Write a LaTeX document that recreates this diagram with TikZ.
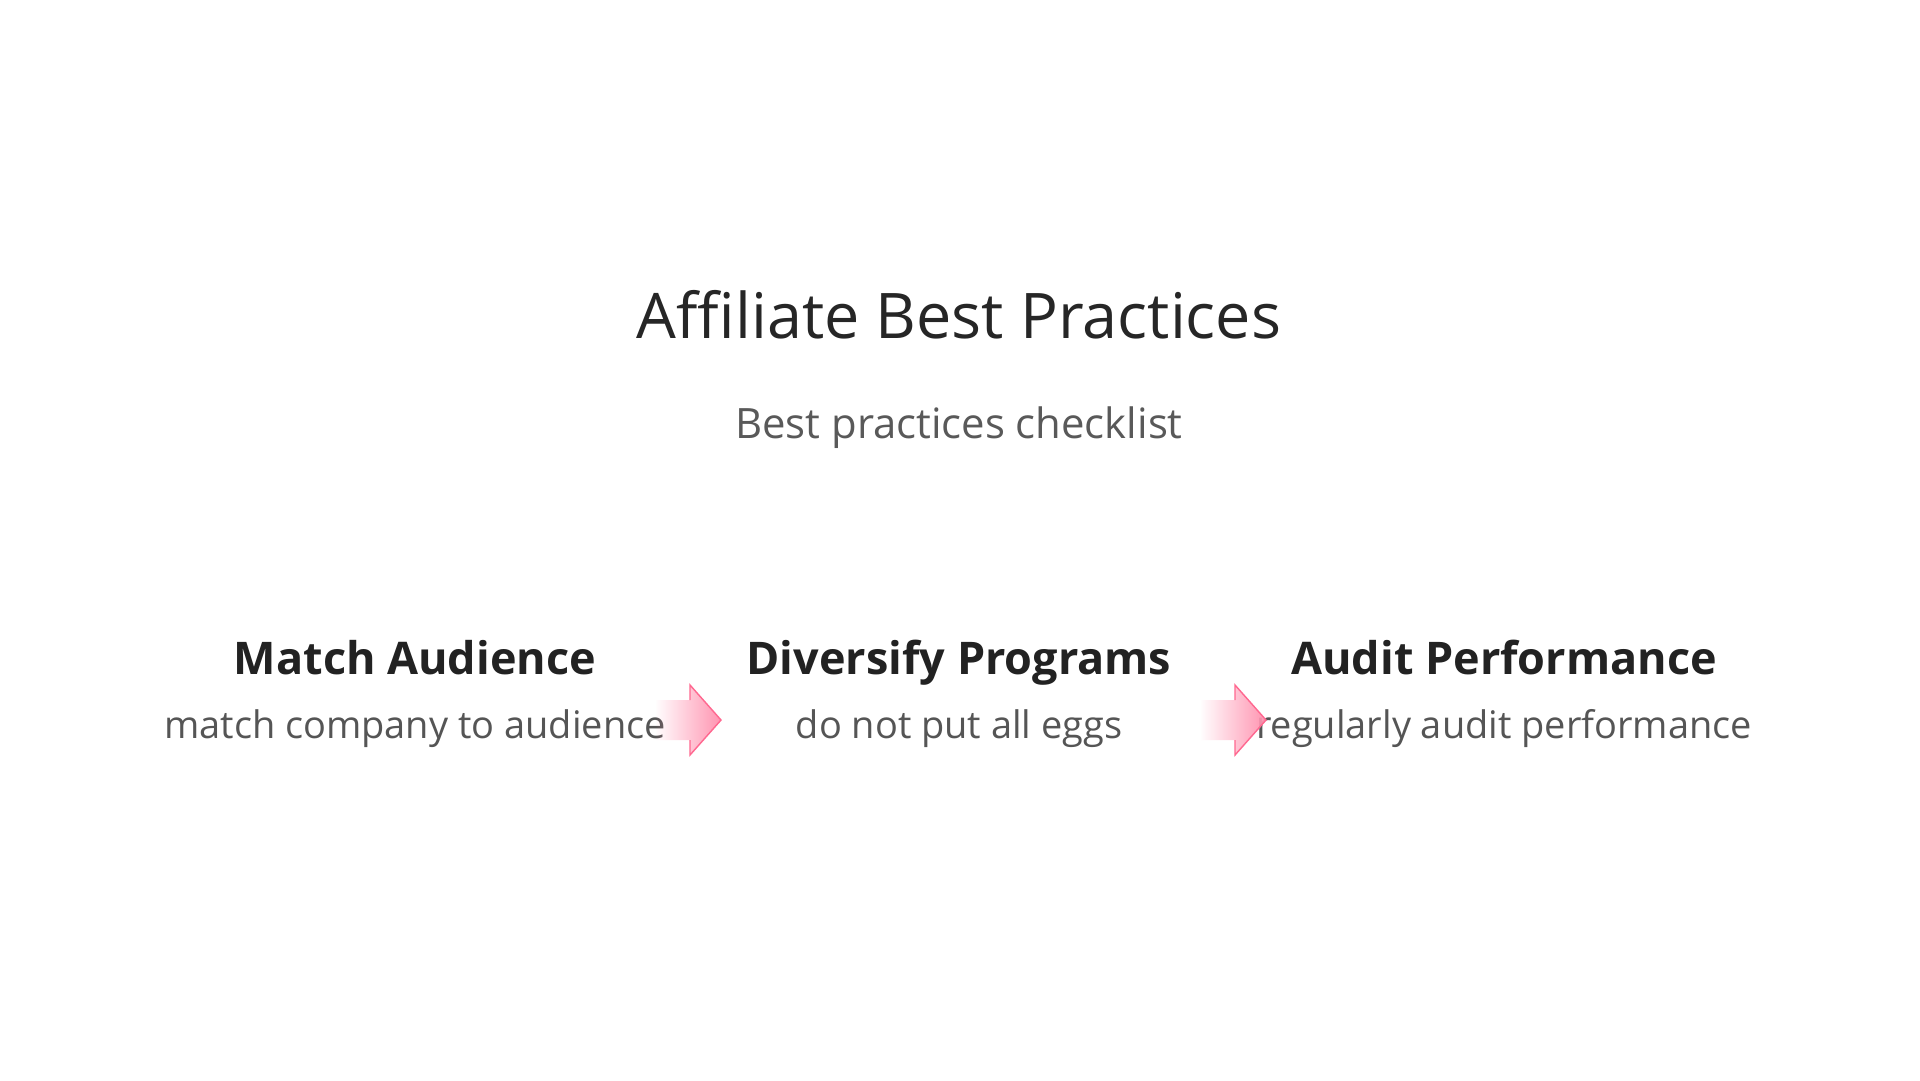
\documentclass[tikz,border=0pt]{standalone}
\usepackage{fontspec}
\setmainfont{Open Sans}[BoldFont={Open Sans Bold}]
\usetikzlibrary{fadings}
\definecolor{titlegray}{HTML}{262626}
\definecolor{subgray}{HTML}{595959}
\definecolor{headgray}{HTML}{222222}
\definecolor{notegray}{HTML}{555555}
\definecolor{arrowpink}{HTML}{FF4D7D}
\tikzset{
  titletext/.style={font=\fontsize{17.9}{21}\selectfont, text=titlegray, anchor=base, inner sep=0pt},
  subtitletext/.style={font=\fontsize{11.9}{14}\selectfont, text=subgray, anchor=base, inner sep=0pt},
  heading/.style={font=\bfseries\fontsize{12.8}{15}\selectfont, text=headgray, anchor=base, inner sep=0pt},
  notetext/.style={font=\fontsize{10.8}{13}\selectfont, text=notegray, anchor=base, inner sep=0pt},
  arrowfill/.style={fill=arrowpink!60, path fading=west, draw=none},
  arrowedge/.style={draw=arrowpink!85, line width=0.4pt, line join=miter}
}
\begin{document}
\begin{tikzpicture}[x=0.1mm,y=-0.1mm]
	\useasboundingbox (0,0) rectangle (1920,1080);
	\fill[white] (0,0) rectangle (1920,1080);
	% title block
	\node[titletext] (title) at (959,338) {Affiliate Best Practices};
	\node[subtitletext] (subtitle) at (959,438) {Best practices checklist};
	% the three steps
	\node[heading] (match) at (415,674) {Match Audience};
	\node[heading] (diverse) at (959,674) {Diversify Programs};
	\node[heading] (audit) at (1504,674) {Audit Performance};
	\node[notetext] (matchnote) at (415,738) {match company to audience};
	\node[notetext] (diversenote) at (959,738) {do not put all eggs};
	\node[notetext] (auditnote) at (1504,738) {regularly audit performance};
	% arrows between steps
	\foreach \ax in {655,1200}{
		\fill[arrowfill] (\ax,700) -- (\ax+35,700) -- (\ax+35,685) -- (\ax+66,720)
			-- (\ax+35,755) -- (\ax+35,740) -- (\ax,740) -- cycle;
		\draw[arrowedge] (\ax+35,700) -- (\ax+35,685) -- (\ax+66,720) -- (\ax+35,755) -- (\ax+35,740);
	}
\end{tikzpicture}
\end{document}
